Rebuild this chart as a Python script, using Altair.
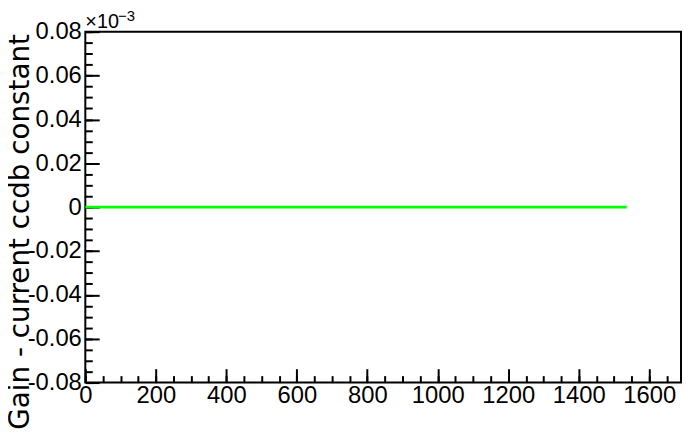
import altair as alt
import pandas as pd

# ---- data ----
channel = [0, 1536]
gain_diff = [0.0, 0.0]          # in units of 1e-3

x_major = [0, 200, 400, 600, 800, 1000, 1200, 1400, 1600]
x_minor = [0, 50, 100, 150, 200, 250, 300, 350, 400, 450, 500, 550, 600, 650,
           700, 750, 800, 850, 900, 950, 1000, 1050, 1100, 1150, 1200, 1250,
           1300, 1350, 1400, 1450, 1500, 1550, 1600, 1650]
y_major = [-0.08, -0.06, -0.04, -0.02, 0.0, 0.02, 0.04, 0.06, 0.08]
y_minor = [-0.08, -0.075, -0.07, -0.065, -0.06, -0.055, -0.05, -0.045, -0.04,
           -0.035, -0.03, -0.025, -0.02, -0.015, -0.01, -0.005, 0.0, 0.005,
           0.01, 0.015, 0.02, 0.025, 0.03, 0.035, 0.04, 0.045, 0.05, 0.055,
           0.06, 0.065, 0.07, 0.075, 0.08]
exp_base = ["×10"]
exp_power = ["−3"]
y_title = "Gain - current ccdb constant"

df = pd.DataFrame({"channel": channel, "gain": gain_diff})

x_scale = alt.Scale(domain=[0, 1690], nice=False, zero=False)
y_scale = alt.Scale(domain=[-0.08, 0.08], nice=False, zero=False)

label_font = "Liberation Sans"
ylab = "datum.value == 0 ? '0' : (datum.value < 0 ? '-' : '') + format(abs(datum.value), '.2f')"

base = alt.Chart(df)

line = base.mark_line(color="#00ff00", strokeWidth=3, clip=False).encode(
    x=alt.X("channel:Q", scale=x_scale,
            axis=alt.Axis(values=x_major, format="d", ticks=False, domain=False, grid=False,
                          labelFont=label_font, labelFontSize=24, labelColor="black",
                          labelPadding=1, labelFlush=False, labelOverlap=False,
                          title=None, orient="bottom")),
    y=alt.Y("gain:Q", scale=y_scale,
            axis=alt.Axis(values=y_major, ticks=False, domain=False, grid=False,
                          labelExpr=ylab, labelFont=label_font, labelFontSize=24,
                          labelColor="black", labelPadding=4, labelFlush=False,
                          labelOverlap=False, orient="left",
                          title=y_title, titleFont="DejaVu Sans", titleFontSize=28,
                          titleFontWeight="normal", titleColor="black",
                          titleAngle=270, titleAlign="left", titleBaseline="alphabetic",
                          titleX=-57, titleY=401)),
)


def tick_layer(xv, yv, size):
    return base.mark_line(opacity=0).encode(
        x=alt.X("channel:Q", scale=x_scale,
                axis=alt.Axis(values=xv, offset=-size, tickSize=size, tickWidth=2,
                              tickColor="black", labels=False, domain=False,
                              grid=False, title=None, orient="bottom")),
        y=alt.Y("gain:Q", scale=y_scale,
                axis=alt.Axis(values=yv, offset=-size, tickSize=size, tickWidth=2,
                              tickColor="black", labels=False, domain=False,
                              grid=False, title=None, orient="left")),
    )


major = tick_layer(x_major, y_major, 14)
minor = tick_layer(x_minor, y_minor, 7)

exp1 = alt.Chart(pd.DataFrame({"t": exp_base})).mark_text(
    align="left", baseline="alphabetic", font=label_font, fontSize=20, color="black"
).encode(x=alt.value(0), y=alt.value(-4), text="t:N")

exp2 = alt.Chart(pd.DataFrame({"t": exp_power})).mark_text(
    align="left", baseline="alphabetic", font=label_font, fontSize=15, color="black"
).encode(x=alt.value(33), y=alt.value(-11), text="t:N")

chart = alt.layer(line, major, minor, exp1, exp2).resolve_axis(
    x="independent", y="independent"
).properties(
    width=601, height=354,
    padding={"left": 78, "top": 22, "right": 1, "bottom": 53},
    autosize="none",
    background="white",
).configure_view(stroke="black", strokeWidth=2)

chart.save("out.html", embed_options={"renderer": "svg", "actions": False})
